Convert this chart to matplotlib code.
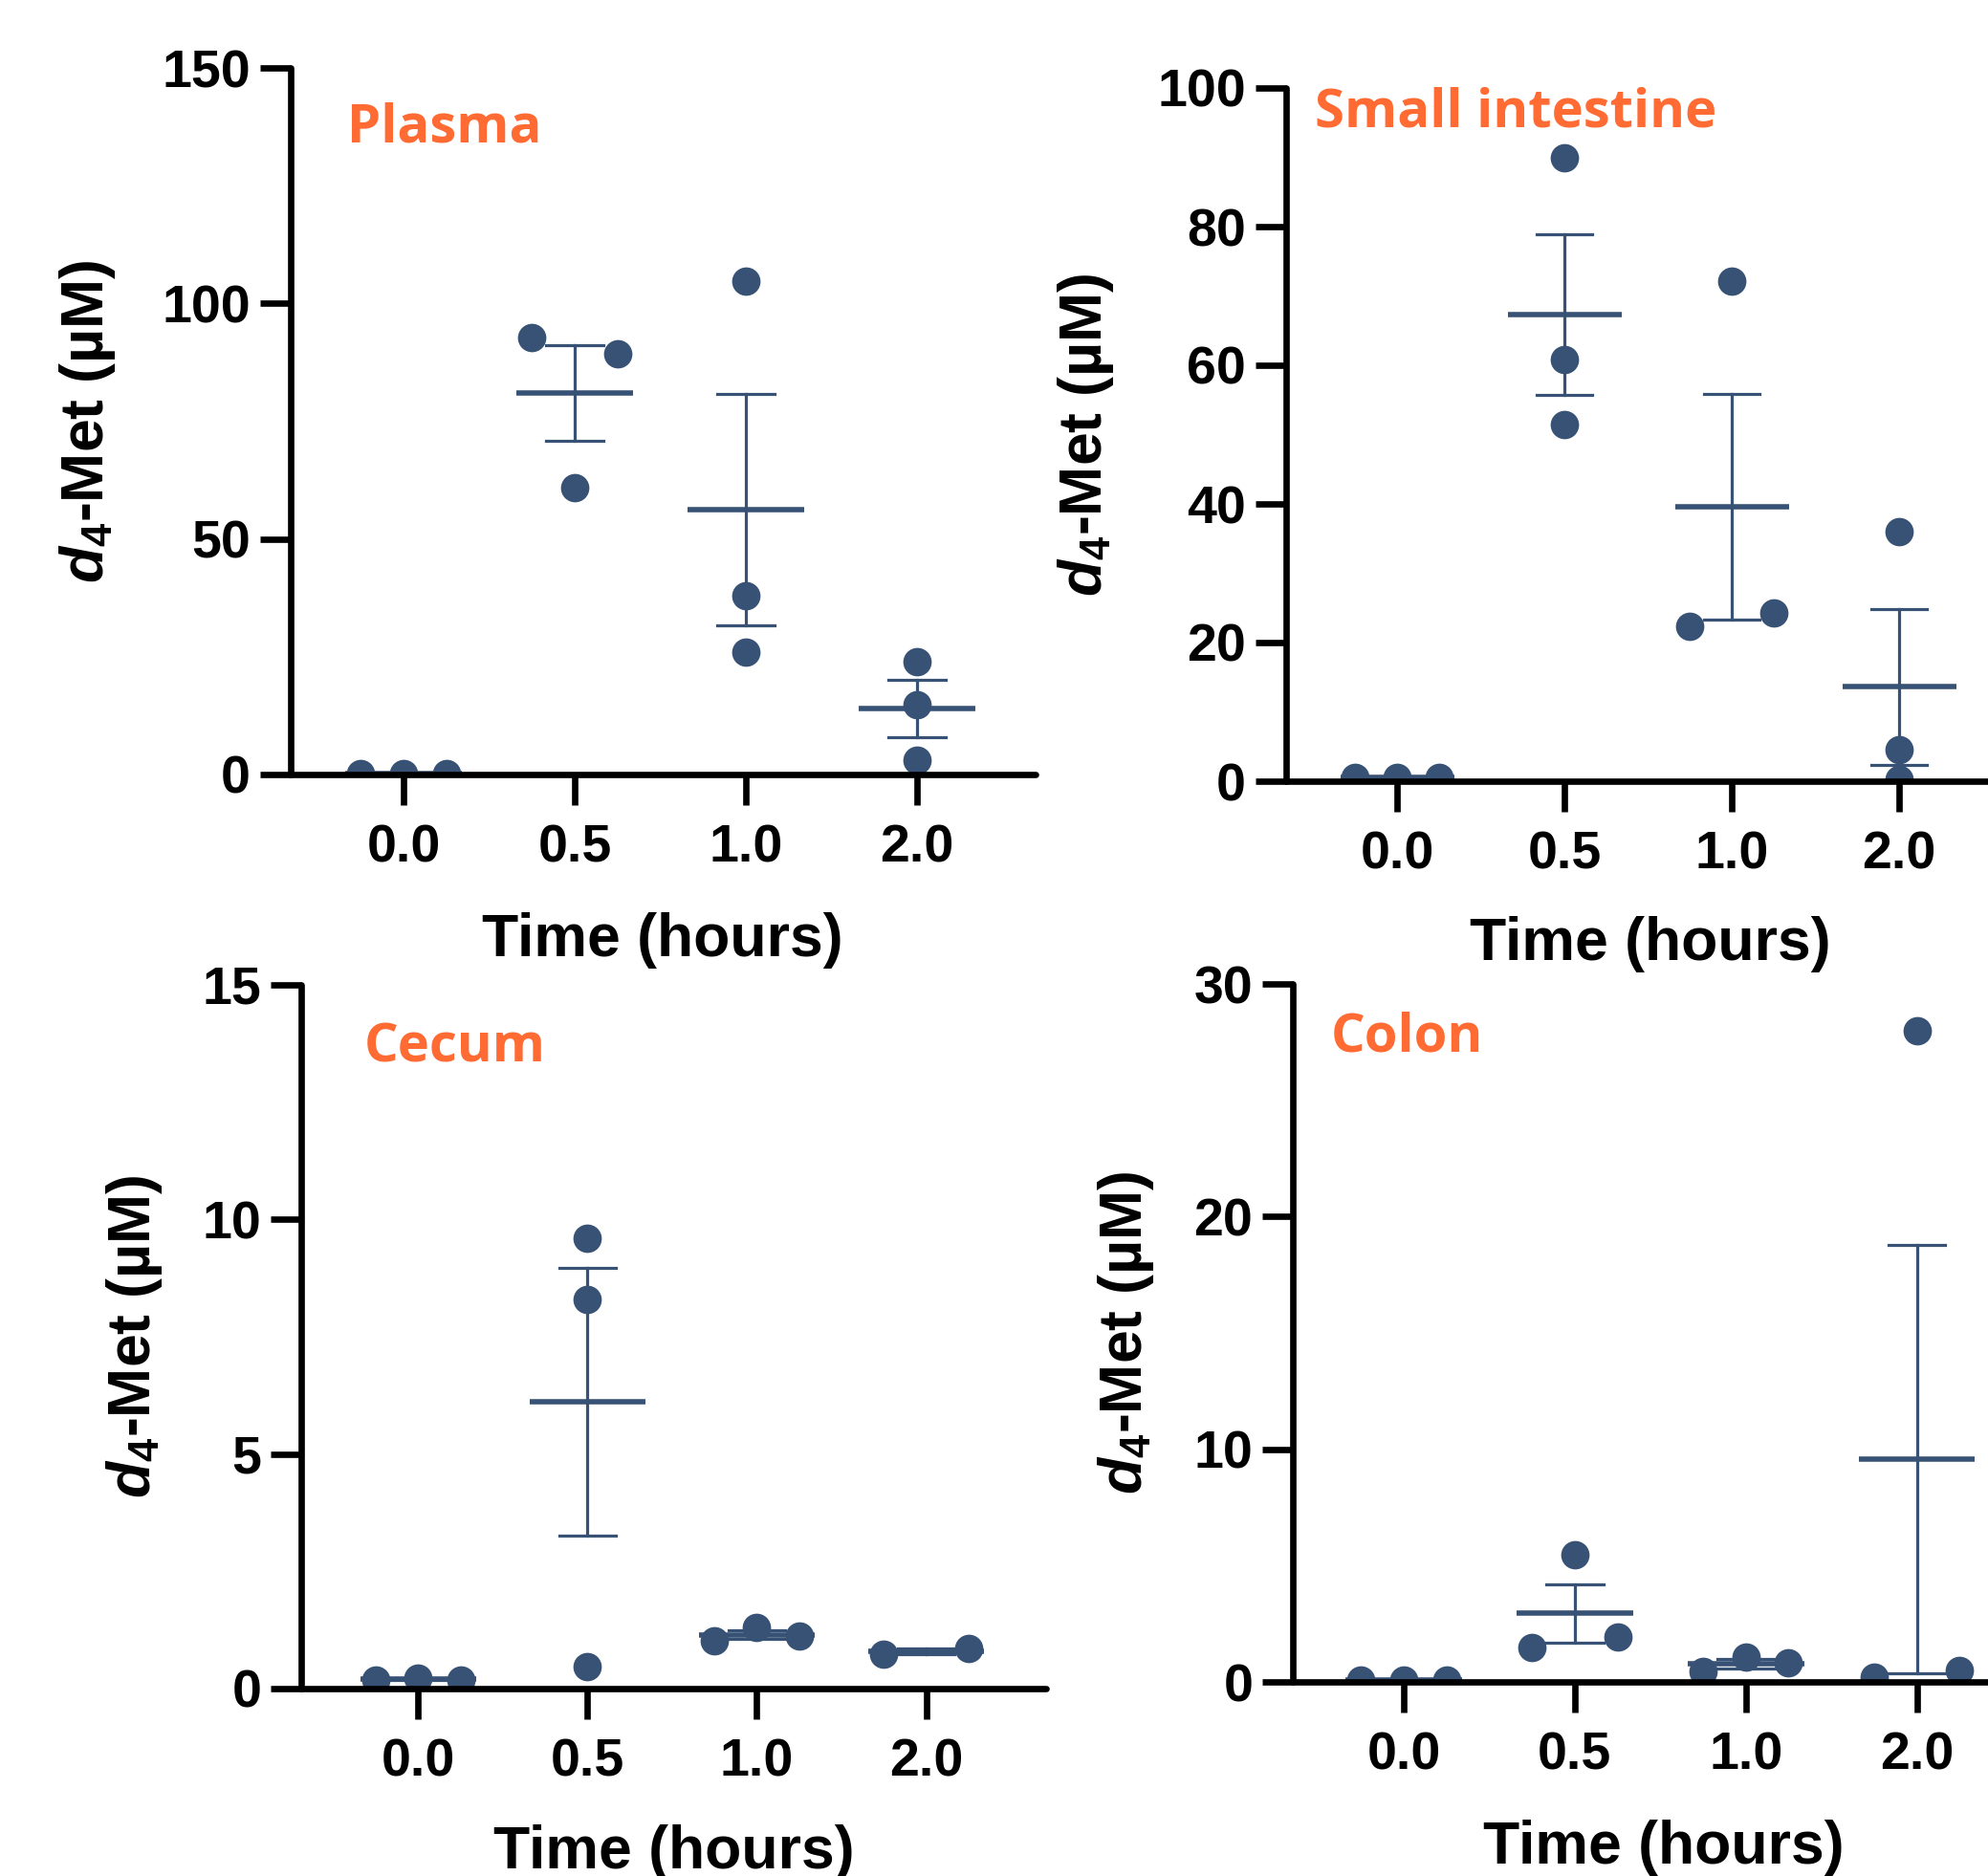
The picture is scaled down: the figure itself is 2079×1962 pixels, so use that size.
import numpy as np
import matplotlib
matplotlib.use("Agg")
import matplotlib.pyplot as plt

# ---------------- data ----------------
times = ["0.0", "0.5", "1.0", "2.0"]

plasma = [[0.2, 0.2, 0.2], [92.7, 89.4, 60.8], [104.8, 37.9, 26.0], [24.0, 14.9, 3.0]]
small_intestine = [[0.5, 0.5, 0.5], [89.9, 60.8, 51.4], [22.4, 72.2, 24.3], [36.0, 4.6, 0.3]]
cecum = [[0.19, 0.23, 0.19], [9.59, 8.30, 0.47], [1.02, 1.31, 1.12], [0.73, 0.85]]
colon = [[0.1, 0.1, 0.1], [1.46, 5.46, 1.92], [0.44, 1.08, 0.82], [0.2, 28.0, 0.51]]

titles = ["Plasma", "Small intestine", "Cecum", "Colon"]
y_max = [150, 100, 15, 30]
y_step = [50, 20, 5, 10]

# ---------------- style ----------------
plt.rcParams["font.family"] = ["Liberation Sans", "DejaVu Sans"]
plt.rcParams["font.weight"] = "bold"
plt.rcParams["mathtext.fontset"] = "custom"
plt.rcParams["mathtext.it"] = "Liberation Sans:italic:bold"
plt.rcParams["mathtext.rm"] = "Liberation Sans:bold"
plt.rcParams["mathtext.bf"] = "Liberation Sans:bold"

DOT = "#385275"
ORANGE = "#FF6B33"
W, H = 2079, 1962
DPI = 100

fig = plt.figure(figsize=(W / DPI, H / DPI), dpi=DPI)

layouts = [
    dict(ax_x=303.5, base_y=810, top_y=71, xlim=(-0.662, 3.693), right=1083,
         title_xy=(0.0763, 0.895), ylab_x=-0.2316, xlab_y=-0.257),
    dict(ax_x=1344.5, base_y=817, top_y=92, xlim=(-0.666, 3.69), right=2107,
         title_xy=(0.040, 0.944), ylab_x=-0.233, xlab_y=-0.258),
    dict(ax_x=315, base_y=1766, top_y=1030, xlim=(-0.692, 3.709), right=1094,
         title_xy=(0.0841, 0.891), ylab_x=-0.1836, xlab_y=-0.2554),
    dict(ax_x=1352, base_y=1759, top_y=1029, xlim=(-0.648, 3.69), right=2128,
         title_xy=(0.0515, 0.904), ylab_x=-0.184, xlab_y=-0.260),
]

datasets = [plasma, small_intestine, cecum, colon]

MS = 21.4
MS_PX = MS * DPI / 72.0
SLOT = 0.25
SPINE_LW = 4.8


def swarm_offsets(vals, ax):
    vals = np.asarray(vals, float)
    ypx = ax.transData.transform(np.column_stack([np.zeros_like(vals), vals]))[:, 1]
    order = np.argsort(ypx, kind="stable")
    clusters, cur = [], [order[0]]
    for a, b in zip(order[:-1], order[1:]):
        if abs(ypx[b] - ypx[a]) < 0.95 * MS_PX:
            cur.append(b)
        else:
            clusters.append(cur)
            cur = [b]
    clusters.append(cur)
    offs = np.zeros(len(vals))
    for c in clusters:
        c = sorted(c)
        n = len(c)
        if n == 1:
            slots = [0]
        elif n == 2:
            slots = [-1, 1]
        else:
            slots = list(np.arange(n) - (n - 1) / 2)
        for i, s in zip(c, slots):
            offs[i] = s * SLOT
    return offs


for data, title, ym, ys, L in zip(datasets, titles, y_max, y_step, layouts):
    left = L["ax_x"] / W
    width = (L["right"] - L["ax_x"]) / W
    bottom = 1 - L["base_y"] / H
    height = (L["base_y"] - L["top_y"]) / H
    ax = fig.add_axes([left, bottom, width, height])
    ax.set_xlim(*L["xlim"])
    ax.set_ylim(0, ym)

    for i, vals in enumerate(data):
        vals = np.asarray(vals, float)
        m = vals.mean()
        sem = vals.std(ddof=1) / np.sqrt(len(vals))
        ax.plot([i - 0.34, i + 0.34], [m, m], color=DOT, lw=4.0, zorder=2.2,
                solid_capstyle="butt")
        ax.plot([i, i], [m - sem, m + sem], color=DOT, lw=2.3, zorder=2.2)
        for yv in (m - sem, m + sem):
            ax.plot([i - 0.167, i + 0.167], [yv, yv], color=DOT, lw=2.3, zorder=2.2)
        offs = swarm_offsets(vals, ax)
        ax.plot(i + offs, vals, "o", ms=MS, color=DOT, mec="none", zorder=2.4)

    for s in ("top", "right"):
        ax.spines[s].set_visible(False)
    for s in ("left", "bottom"):
        ax.spines[s].set_linewidth(SPINE_LW)
        ax.spines[s].set_capstyle("round")

    ax.set_xticks(range(len(times)))
    ax.set_xticklabels(times)
    ax.set_yticks(np.arange(0, ym + ys / 2, ys))
    ax.tick_params(axis="both", direction="out", length=23, width=SPINE_LW,
                   labelsize=40, color="black")
    ax.tick_params(axis="x", pad=14)
    ax.tick_params(axis="y", pad=7)
    for lab in ax.get_xticklabels() + ax.get_yticklabels():
        lab.set_fontweight("bold")

    ax.set_xlabel("Time (hours)", fontsize=45, fontweight="bold")
    ax.xaxis.label.set_va("baseline")
    ax.xaxis.set_label_coords(0.5, L["xlab_y"])
    ax.set_ylabel(r"$\mathit{d_4}$-Met (µM)", fontsize=45, fontweight="bold")
    ax.yaxis.set_label_coords(L["ylab_x"], 0.5)

    ax.text(L["title_xy"][0], L["title_xy"][1], title, transform=ax.transAxes,
            fontsize=40.5, fontweight="bold", color=ORANGE,
            family=["Open Sans", "Lato", "DejaVu Sans"], ha="left", va="baseline")

fig.savefig("out.png", dpi=DPI)
